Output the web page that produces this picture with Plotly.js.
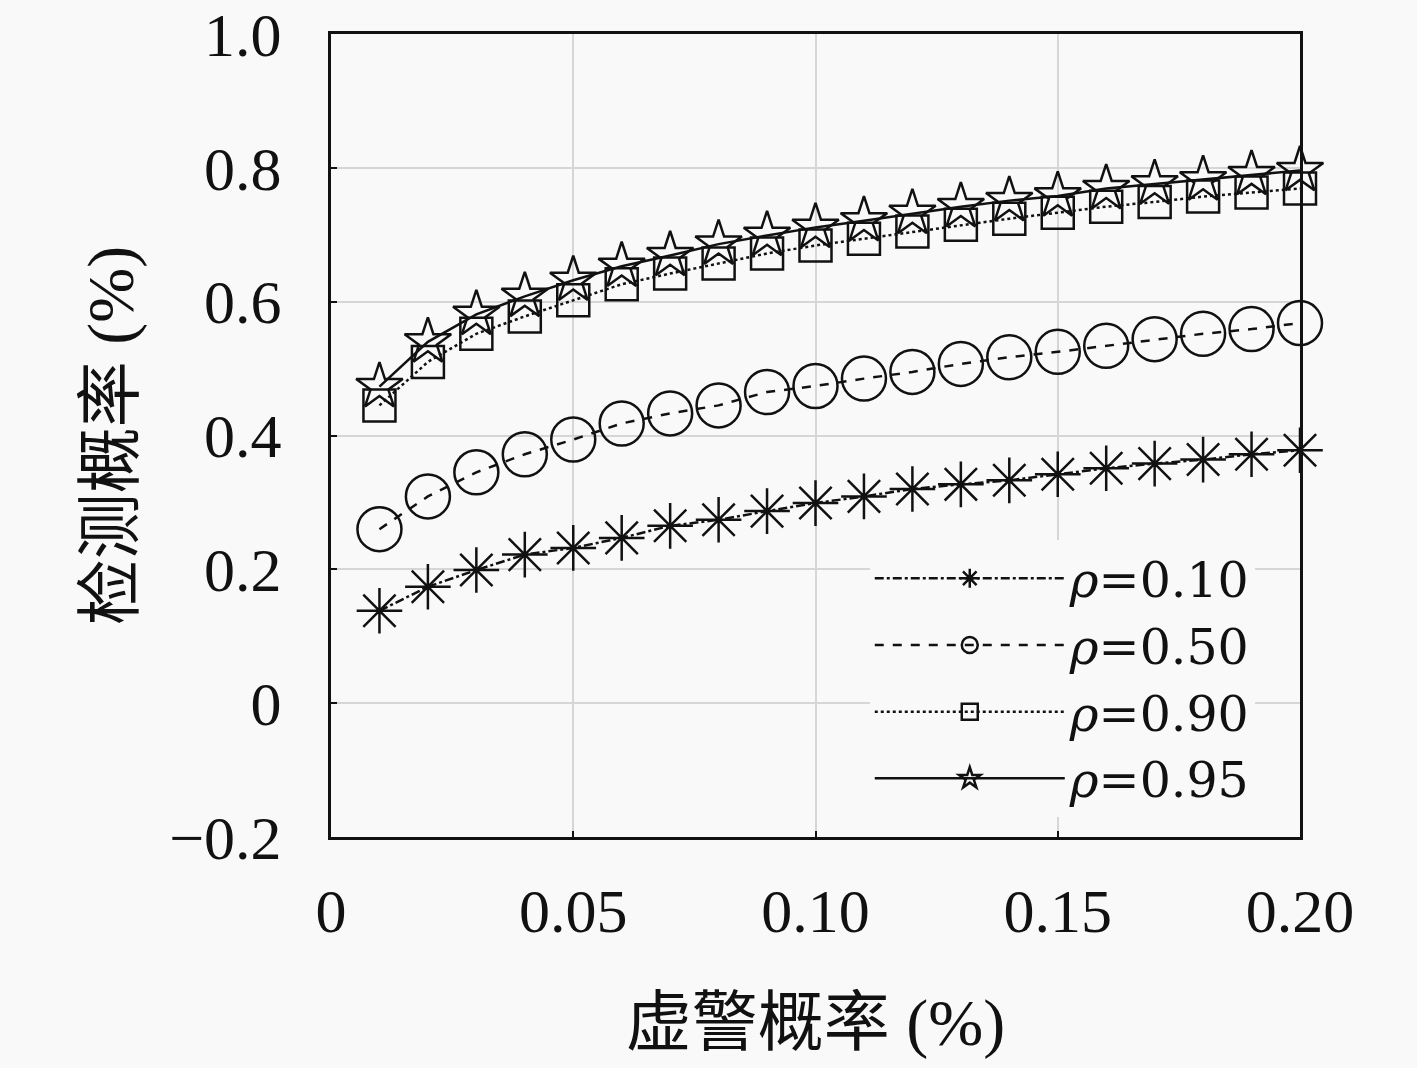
<!DOCTYPE html>
<html>
<head>
<meta charset="utf-8">
<script src="https://cdn.plot.ly/plotly-3.0.1.min.js"></script>
<style>
  html, body { margin: 0; padding: 0; background: #f9f9f9; }
  #chart { width: 1417px; height: 1068px; }
</style>
</head>
<body>
<div id="chart"></div>
<script>
var falseAlarm = [0.01, 0.02, 0.03, 0.04, 0.05, 0.06, 0.07, 0.08, 0.09, 0.10,
                  0.11, 0.12, 0.13, 0.14, 0.15, 0.16, 0.17, 0.18, 0.19, 0.20];

var rho010 = [0.138, 0.174, 0.199, 0.222, 0.232, 0.247, 0.265, 0.274, 0.287, 0.299,
              0.309, 0.320, 0.327, 0.333, 0.342, 0.351, 0.358, 0.364, 0.372, 0.378];
var rho050 = [0.260, 0.309, 0.345, 0.372, 0.394, 0.418, 0.433, 0.445, 0.465, 0.474,
              0.485, 0.495, 0.507, 0.517, 0.525, 0.534, 0.544, 0.552, 0.559, 0.568];
var rho090 = [0.445, 0.510, 0.552, 0.578, 0.602, 0.626, 0.642, 0.657, 0.672, 0.684,
              0.694, 0.705, 0.715, 0.724, 0.733, 0.742, 0.749, 0.757, 0.763, 0.769];
var rho095 = [0.473, 0.540, 0.581, 0.608, 0.632, 0.653, 0.669, 0.686, 0.699, 0.711,
              0.721, 0.732, 0.742, 0.751, 0.758, 0.769, 0.776, 0.782, 0.790, 0.796];

var xTickVals = [0, 0.05, 0.10, 0.15, 0.20];
var xTickText = ['0', '0.05', '0.10', '0.15', '0.20'];
var yTickVals = [-0.2, 0, 0.2, 0.4, 0.6, 0.8, 1.0];
var yTickText = ['\u22120.2', '0', '0.2', '0.4', '0.6', '0.8', '1.0'];

var serif = 'Liberation Serif, DejaVu Serif, Noto Sans CJK SC, serif';
var wideSerif = 'DejaVu Serif, Liberation Serif, serif';

function series(y, name, dash, symbol, size) {
    return {
        x: falseAlarm,
        y: y,
        name: name,
        type: 'scatter',
        mode: 'lines+markers',
        cliponaxis: false,
        line: { color: '#111', width: 2.5, dash: dash },
        marker: {
            symbol: symbol,
            size: size,
            color: '#111',
            line: { color: '#111', width: 2.5 }
        }
    };
}

var data = [
    series(rho010, '<i>ρ</i>=0.10', 'dashdot', 'asterisk-open', 38),
    series(rho050, '<i>ρ</i>=0.50', 'dash', 'circle-open', 44),
    series(rho090, '<i>ρ</i>=0.90', 'dot', 'square-open', 32),
    series(rho095, '<i>ρ</i>=0.95', 'solid', 'star-open', 35)
];

var layout = {
    width: 1417,
    height: 1068,
    paper_bgcolor: '#f9f9f9',
    plot_bgcolor: '#f9f9f9',
    margin: { l: 331, r: 117, t: 34, b: 231 },
    font: { family: serif, size: 60, color: '#111' },
    showlegend: true,
    legend: {
        x: 0.556,
        y: 0.37,
        xanchor: 'left',
        yanchor: 'top',
        bgcolor: '#f9f9f9',
        borderwidth: 0,
        itemwidth: 190,
        tracegroupgap: 0,
        font: { family: wideSerif, size: 49, color: '#111' }
    },
    xaxis: {
        range: [0, 0.20],
        tickvals: xTickVals,
        ticktext: xTickText,
        ticks: 'inside',
        ticklen: 6,
        tickwidth: 2,
        tickcolor: '#111',
        ticklabelstandoff: 18,
        ticklabeloverflow: 'allow',
        showgrid: true,
        gridcolor: '#d6d6d6',
        gridwidth: 2,
        zeroline: false,
        showline: true,
        mirror: true,
        linecolor: '#111',
        linewidth: 3,
        tickfont: { family: serif, size: 62 },
        title: { text: '虚警概率 (%)', font: { family: serif, size: 66 }, standoff: 55 }
    },
    yaxis: {
        range: [-0.2, 1.0],
        tickvals: yTickVals,
        ticktext: yTickText,
        ticks: 'inside',
        ticklen: 6,
        tickwidth: 2,
        tickcolor: '#111',
        ticklabelstandoff: 34,
        ticklabeloverflow: 'allow',
        showgrid: true,
        gridcolor: '#d6d6d6',
        gridwidth: 2,
        zeroline: false,
        showline: true,
        mirror: true,
        linecolor: '#111',
        linewidth: 3,
        tickfont: { family: serif, size: 62 },
        title: { text: '检测概率 (%)', font: { family: serif, size: 66 }, standoff: 15 }
    }
};

Plotly.newPlot('chart', data, layout, { displayModeBar: false, staticPlot: true });
</script>
</body>
</html>
